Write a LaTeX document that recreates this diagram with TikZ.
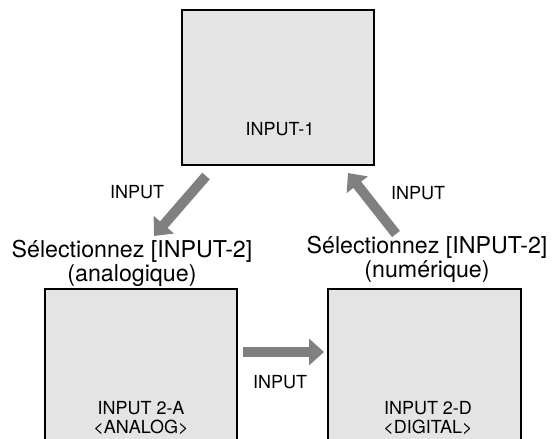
\documentclass[tikz,border=0pt]{standalone}
\usepackage{fontspec}
\setmainfont{TeX Gyre Heros}
\usetikzlibrary{arrows.meta}
\definecolor{boxfill}{HTML}{E4E4E4}
\definecolor{arrowgray}{HTML}{808080}
\tikzset{
  screen/.style={draw=black, line width=1.6pt, fill=boxfill},
  bigarrow/.style={draw=arrowgray, line width=10pt,
    -{Triangle[length=15pt,width=26pt]}},
  small/.style={font=\fontsize{18}{19}\selectfont, inner sep=0pt, anchor=base},
  title/.style={font=\fontsize{23.2}{24}\selectfont, inner sep=0pt, anchor=base, align=center},
}
\begin{document}
\begin{tikzpicture}[x=1pt,y=-1pt]
\useasboundingbox (0,0) rectangle (555,439);
\begin{scope}
\clip (0,0) rectangle (555,439);
% screens
\draw[screen] (182,10) rectangle (374,165);
\draw[screen] (45,289) rectangle (237,460);
\draw[screen] (328,289) rectangle (521,460);
\end{scope}
% screen texts (anchor base = last line baseline)
\node[small] (t1) at (280,135) {INPUT-1};
\node[small, align=center] (t2a) at (141,433) {INPUT 2-A\\<ANALOG>};
\node[small, align=center] (t2d) at (428,433) {INPUT 2-D\\<DIGITAL>};
% arrow coordinates
\coordinate (la1) at (206,176);
\coordinate (la2) at (154,236);
\coordinate (ra1) at (396,234);
\coordinate (ra2) at (348,173);
\coordinate (ha1) at (243,352);
\coordinate (ha2) at (324,352);
\draw[bigarrow] (la1) -- (la2);
\draw[bigarrow] (ra1) -- (ra2);
\draw[bigarrow] (ha1) -- (ha2);
% labels
\node[small] (l1) at (137,198) {INPUT};
\node[small] (l2) at (418,199) {INPUT};
\node[small] (l3) at (280,388) {INPUT};
\node[title] (s1) at (132,281) {Sélectionnez [INPUT-2]\\(analogique)};
\node[title] (s2) at (427,277) {Sélectionnez [INPUT-2]\\(numérique)};
\end{tikzpicture}
\end{document}
